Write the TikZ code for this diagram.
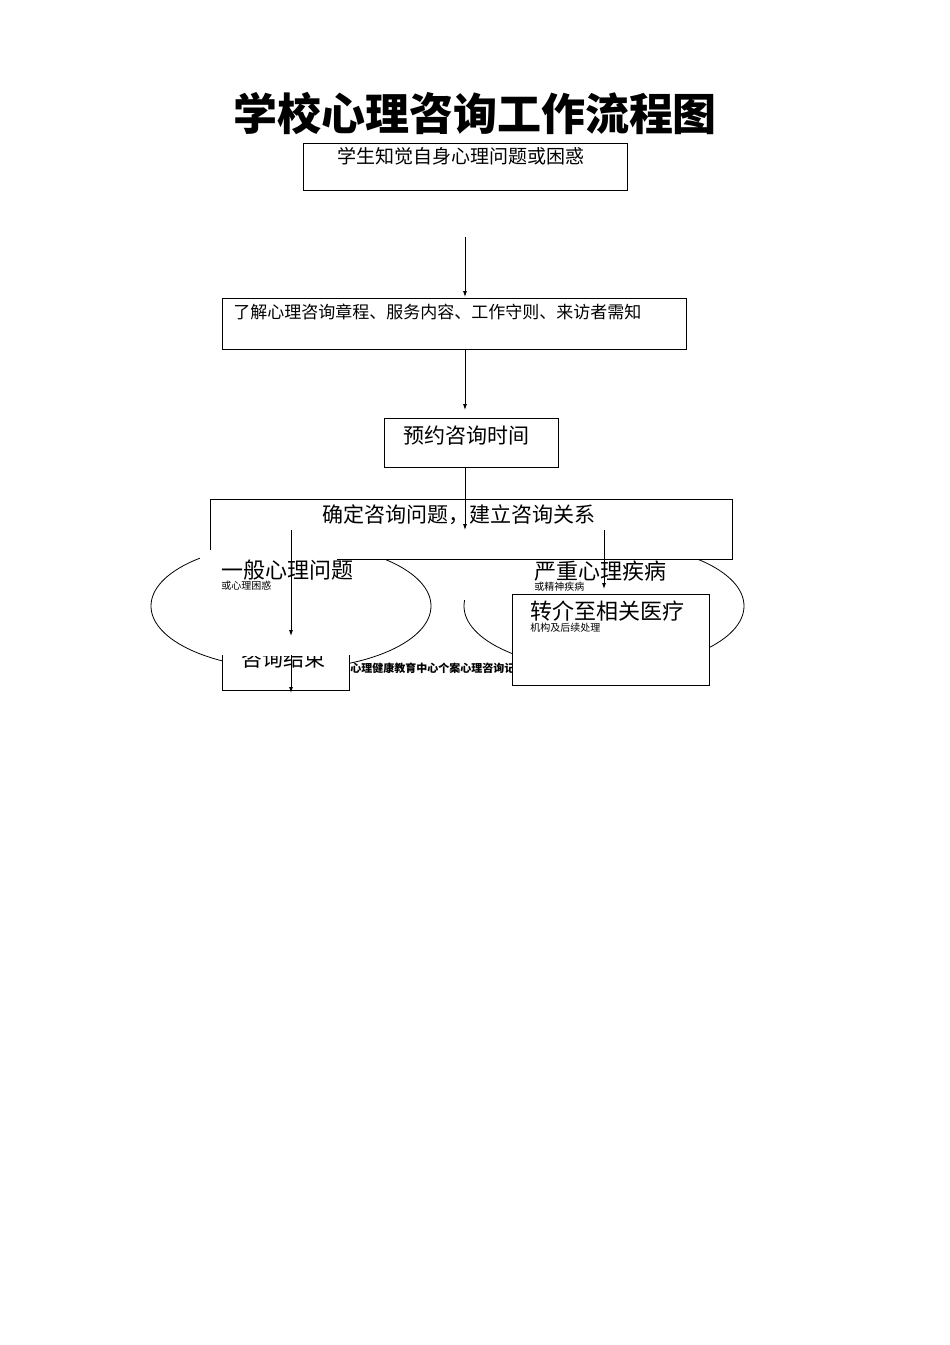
\documentclass[tikz,border=0pt]{standalone}
\usepackage{fontspec}
\setmainfont{Noto Sans CJK SC}
\usetikzlibrary{arrows.meta}
\begin{document}
\begin{tikzpicture}[x=1pt,y=-1pt,line width=0.8pt,
  arr/.style={-{Latex[length=6pt,width=4pt]}},
  bx/.style={draw,fill=white},
  t/.style={inner sep=0pt,anchor=north west,align=left}]
\useasboundingbox[fill=white] (0,0) rectangle (950,1345);
\node[inner sep=0pt] (title) at (475,113) {\fontsize{44}{48}\selectfont\bfseries 学校心理咨询工作流程图};
\draw (303,143) rectangle (627,190);
\node[t] (b1) at (337,147) {\fontsize{19}{22}\selectfont 学生知觉自身心理问题或困惑};
\coordinate (a1s) at (465,237); \coordinate (a1e) at (465,297);
\draw[arr] (a1s) -- (a1e);
\draw (222,298) rectangle (686,349);
\node[t] (b2) at (233,304) {\fontsize{17}{20}\selectfont 了解心理咨询章程、服务内容、工作守则、来访者需知};
\coordinate (a2s) at (465,349); \coordinate (a2e) at (465,410);
\draw[arr] (a2s) -- (a2e);
\draw (384,418) rectangle (558,467);
\node[t] (b3) at (403,425) {\fontsize{21}{24}\selectfont 预约咨询时间};
% ellipses
\draw (291,606) ellipse (140 and 63);
\draw (604,606) ellipse (140 and 63);
\draw[bx] (210,499) rectangle (732,559);
\node[t] (b4) at (322,504) {\fontsize{21}{24}\selectfont 确定咨询问题，建立咨询关系};
\fill[white] (200,550) rectangle (337,612);
\fill[white] (443,560) rectangle (600,600);
\node[t] (e1) at (221,560) {\fontsize{22}{23}\selectfont 一般心理问题\\[-1pt]或心理困惑};
\node[t] (e2) at (534,560) {\fontsize{22}{23}\selectfont 严重心理疾病\\[-1pt]或精神疾病};
\coordinate (a3s) at (465,467); \coordinate (a3e) at (465,530);
\draw[arr] (a3s) -- (a3e);
\coordinate (l1) at (291,530); \coordinate (l2) at (291,636);
\draw[arr] (l1) -- (l2);
\coordinate (r1) at (604,530); \coordinate (r2) at (604,589);
\draw[arr] (r1) -- (r2);
% 咨询结束
\fill[white] (222,655) rectangle (349,690);
\draw (222,655) -- (222,690) -- (349,690) -- (349,655);
\begin{scope}
\clip (222,656) rectangle (349,690);
\node[t] (end) at (241,648) {\fontsize{21}{24}\selectfont 咨询结束};
\end{scope}
\coordinate (l3) at (291,655); \coordinate (l4) at (291,693);
\draw[arr] (l3) -- (l4);
\node[t] (foot) at (350,662) {\fontsize{11}{12}\selectfont\bfseries 心理健康教育中心个案心理咨询记录表};
\draw[bx] (512,594) rectangle (709,685);
\node[t] (b5) at (530,600) {\fontsize{22}{25}\selectfont 转介至相关医疗\\机构及后续处理};
\end{tikzpicture}
\end{document}
